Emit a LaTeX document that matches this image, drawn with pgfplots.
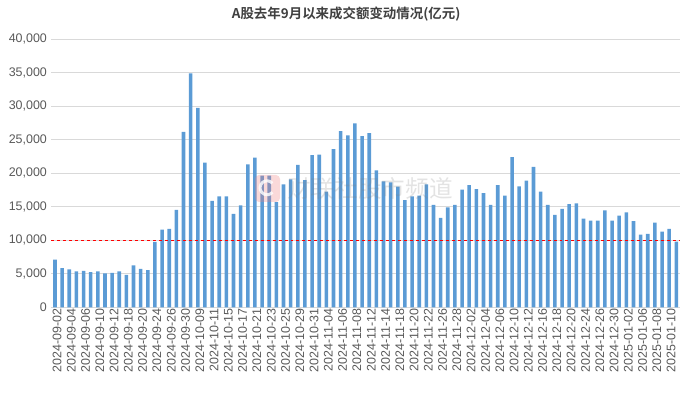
\documentclass[border=0pt]{standalone}
\usepackage{pgfplots}
\pgfplotsset{compat=1.18}
\usepackage{pgfplotstable}
\usepackage{fontspec}
\setmainfont{Liberation Sans}
\newfontfamily\cjk{Noto Sans CJK SC}
\newfontfamily\cjkbold{Noto Sans CJK SC Bold}
\definecolor{barblue}{HTML}{5B9BD5}
\definecolor{gridgray}{HTML}{D9D9D9}
\definecolor{ticktext}{HTML}{595959}
\definecolor{titletext}{HTML}{404040}
\definecolor{logopink}{HTML}{F08080}
\pgfplotstableread{
i v
0 7100
1 5850
2 5650
3 5350
4 5450
5 5250
6 5350
7 5050
8 5150
9 5350
10 4850
11 6250
12 5750
13 5550
14 9750
15 11600
16 11700
17 14550
18 26200
19 34900
20 29750
21 21600
22 15900
23 16550
24 16550
25 13950
26 15200
27 21350
28 22350
29 19650
30 19650
31 15700
32 18350
33 19100
34 21250
35 19000
36 22700
37 22800
38 17250
39 23600
40 26300
41 25650
42 27450
43 25550
44 26000
45 20450
46 18800
47 18650
48 18000
49 16000
50 16550
51 16650
52 18350
53 15300
54 13350
55 14900
56 15300
57 17550
58 18250
59 17650
60 17050
61 15300
62 18250
63 16650
64 22400
65 18050
66 18900
67 20950
68 17250
69 15300
70 13800
71 14700
72 15400
73 15500
74 13250
75 12950
76 12950
77 14450
78 12950
79 13700
80 14150
81 12850
82 10850
83 10950
84 12650
85 11300
86 11700
87 9800
}\turnover
\begin{document}
\begin{tikzpicture}[x=1bp,y=1bp]
\begin{axis}[
  scale only axis,
  width=628.5bp, height=268bp,
  xmin=-0.5, xmax=87.5,
  ymin=0, ymax=40000,
  ytick={0,5000,...,40000},
  scaled y ticks=false,
  yticklabel style={/pgf/number format/1000 sep={,}, /pgf/number format/assume math mode=true,
    font=\fontsize{12.5}{14}\selectfont, text=ticktext, xshift=-1bp},
  xtick={0,2,...,86},
  xticklabels={2024-09-02,2024-09-04,2024-09-06,2024-09-10,2024-09-12,2024-09-18,2024-09-20,2024-09-24,2024-09-26,2024-09-30,
    2024-10-09,2024-10-11,2024-10-15,2024-10-17,2024-10-21,2024-10-23,2024-10-25,2024-10-29,2024-10-31,
    2024-11-04,2024-11-06,2024-11-08,2024-11-12,2024-11-14,2024-11-18,2024-11-20,2024-11-22,2024-11-26,2024-11-28,
    2024-12-02,2024-12-04,2024-12-06,2024-12-10,2024-12-12,2024-12-16,2024-12-18,2024-12-20,2024-12-24,2024-12-26,2024-12-30,
    2025-01-02,2025-01-06,2025-01-08,2025-01-10},
  xticklabel style={rotate=90, anchor=east, font=\fontsize{12.5}{14}\selectfont, text=ticktext, inner sep=1bp, yshift=-2bp},
  major tick length=0pt,
  ymajorgrids, grid style={gridgray, line width=0.8bp},
  axis x line*=bottom, axis y line*=left,
  x axis line style={gridgray, line width=0.8bp, -},
  y axis line style={draw=none},
  title={\cjkbold\fontsize{13.5}{16}\selectfont A股去年9月以来成交额变动情况(亿元)},
  title style={at={(0.5,1)}, anchor=center, yshift=19.5bp, xshift=-19.5bp, text=titletext},
  clip=false,
]
\addplot[ybar, bar width=0.5, fill=barblue, draw=none] table[x=i, y=v] {\turnover};
\addplot[red, dashed, line width=0.6bp] coordinates {(-0.5,10000) (87.5,10000)};
\end{axis}
\fill[logopink, opacity=0.3, rounded corners=4bp] (203.6bp,105.3bp) rectangle (228.6bp,132.3bp);
\draw[white, opacity=0.8, line width=3bp] (221bp,124bp) arc[start angle=40, end angle=320, radius=7bp];
\node[text=gray, opacity=0.22, font=\cjk\fontsize{23.7}{26}\selectfont] at (318.6bp,118.3bp) {财联社股市频道};
\pgfresetboundingbox
\path[use as bounding box] (-51.4bp,-88.7bp) rectangle (640.6bp,307.3bp);
\end{tikzpicture}
\end{document}
